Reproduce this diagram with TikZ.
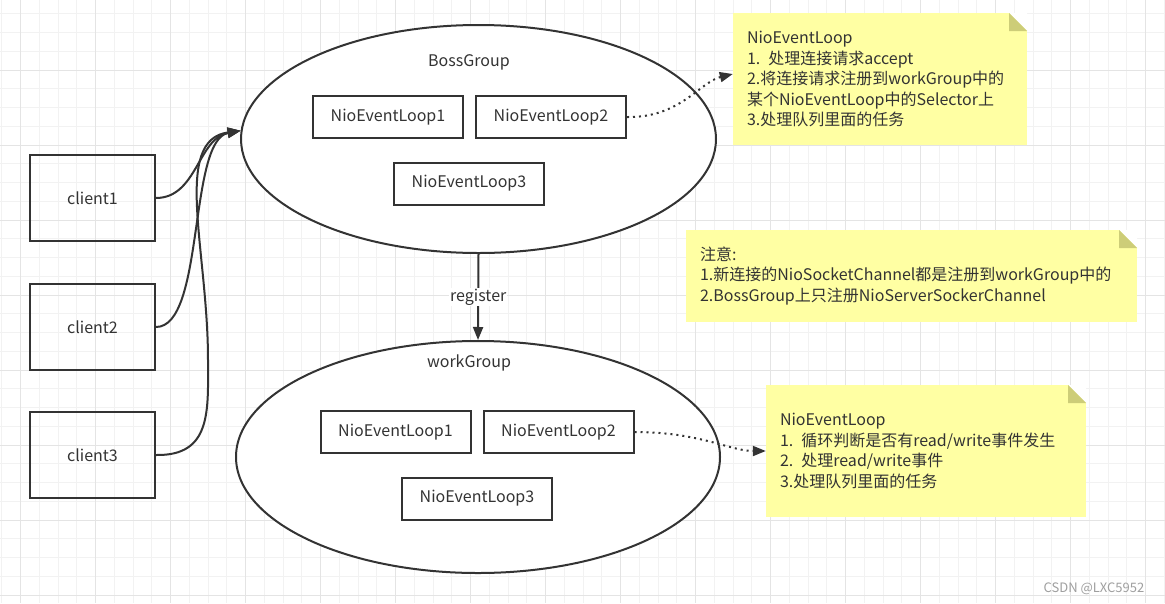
\documentclass[tikz,border=0pt]{standalone}
\usepackage{fontspec}
\setmainfont{Noto Sans CJK SC}
\usetikzlibrary{shapes.geometric,arrows.meta}
\definecolor{ink}{HTML}{333333}
\definecolor{notebg}{HTML}{FFFFA3}
\definecolor{notefold}{HTML}{CDCD78}
\definecolor{gridmin}{HTML}{F2F2F2}
\definecolor{gridmaj}{HTML}{E4E4E4}
\begin{document}
\begin{tikzpicture}[x=1pt,y=-1pt,font=\fontsize{16}{20.5}\selectfont,color=ink]
\tikzstyle{box}=[draw,line width=2pt,minimum width=150pt,minimum height=42pt,inner sep=0pt]
\tikzstyle{client}=[box,minimum width=125pt,minimum height=86pt]
\tikzstyle{group}=[draw,shape=ellipse,line width=2pt,fill=white,inner sep=0pt]
\tikzstyle{note}=[fill=notebg,inner xsep=14pt,inner ysep=0pt,align=left,
  path picture={
  \fill[white] ([xshift=-18pt]path picture bounding box.north east)
  -- (path picture bounding box.north east)
  -- ([yshift=-18pt]path picture bounding box.north east) -- cycle;
  \fill[notefold] ([xshift=-18pt]path picture bounding box.north east)
  -- ([xshift=-18pt,yshift=-18pt]path picture bounding box.north east)
  -- ([yshift=-18pt]path picture bounding box.north east) -- cycle;}]
\tikzstyle{link}=[line width=2pt,-{Triangle[length=13pt,width=10pt]}]
\tikzstyle{hint}=[link,dash pattern=on 2pt off 4pt]
\useasboundingbox (0,0) rectangle (1165,603);
\fill[white] (0,0) rectangle (1165,603);
\foreach \i in {0,...,62} \draw[gridmin,line width=1pt] ({1.95+18.75*\i},0) -- ({1.95+18.75*\i},603);
\foreach \i in {0,...,31} \draw[gridmin,line width=1pt] (0,{13.75+18.75*\i}) -- (1165,{13.75+18.75*\i});
\foreach \i in {0,...,15} \draw[gridmaj,line width=1pt] ({20.7+75*\i},0) -- ({20.7+75*\i},603);
\foreach \i in {0,...,7} \draw[gridmaj,line width=1pt] (0,{70+75*\i}) -- (1165,{70+75*\i});

\path (92.5,198) node[client](c1){client1}
  (92.5,327) node[client](c2){client2}
  (92.5,455) node[client](c3){client3};
\path (478.5,139) node[group,minimum width=475pt,minimum height=228pt](boss){}
  (478,457) node[group,minimum width=484pt,minimum height=232pt](work){};
\path (469,62) node(bosslabel){BossGroup}
  (469,363) node(worklabel){workGroup};
\path (388,117) node[box](bl1){NioEventLoop1}
  (551,117) node[box](bl2){NioEventLoop2}
  (469,183.5) node[box](bl3){NioEventLoop3};
\path (395.5,432) node[box](wl1){NioEventLoop1}
  (558.5,432) node[box](wl2){NioEventLoop2}
  (477,498.5) node[box](wl3){NioEventLoop3};
\path (880,79) node[note,minimum width=294pt,minimum height=132pt,text width=266pt](note1){NioEventLoop\\1. 处理连接请求accept\\2.将连接请求注册到workGroup中的\\某个NioEventLoop中的Selector上\\3.处理队列里面的任务}
  (911.5,276) node[note,minimum width=451pt,minimum height=92pt,text width=423pt](note2){注意:\\1.新连接的NioSocketChannel都是注册到workGroup中的\\2.BossGroup上只注册NioServerSockerChannel}
  (926,451) node[note,minimum width=320pt,minimum height=132pt,text width=292pt](note3){NioEventLoop\\1. 循环判断是否有read/write事件发生\\2. 处理read/write事件\\3.处理队列里面的任务};

\draw[link] (c1.east) .. controls (197,198) and (198,138) .. (boss.178);
\draw[link] (c2.east) .. controls (205,327) and (188,140) .. (boss.178);
\draw[link] (c3.east) .. controls (212,456) and (208,410) .. (208,360) .. controls (208,250) and (172,140) .. (boss.178);
\draw[link] (boss.south) -- node[fill=white,inner sep=1pt](reg){register} (work.north);
\draw[hint] (bl2.east) .. controls (680,118) and (700,82) .. ([yshift=5pt]note1.west);
\draw[hint] (wl2.east) .. controls (700,432) and (730,451) .. (note3.west);
\path (1094,589) node[text=gray!75,font=\fontsize{13}{13}\selectfont](mark){CSDN @LXC5952};
\end{tikzpicture}
\end{document}
